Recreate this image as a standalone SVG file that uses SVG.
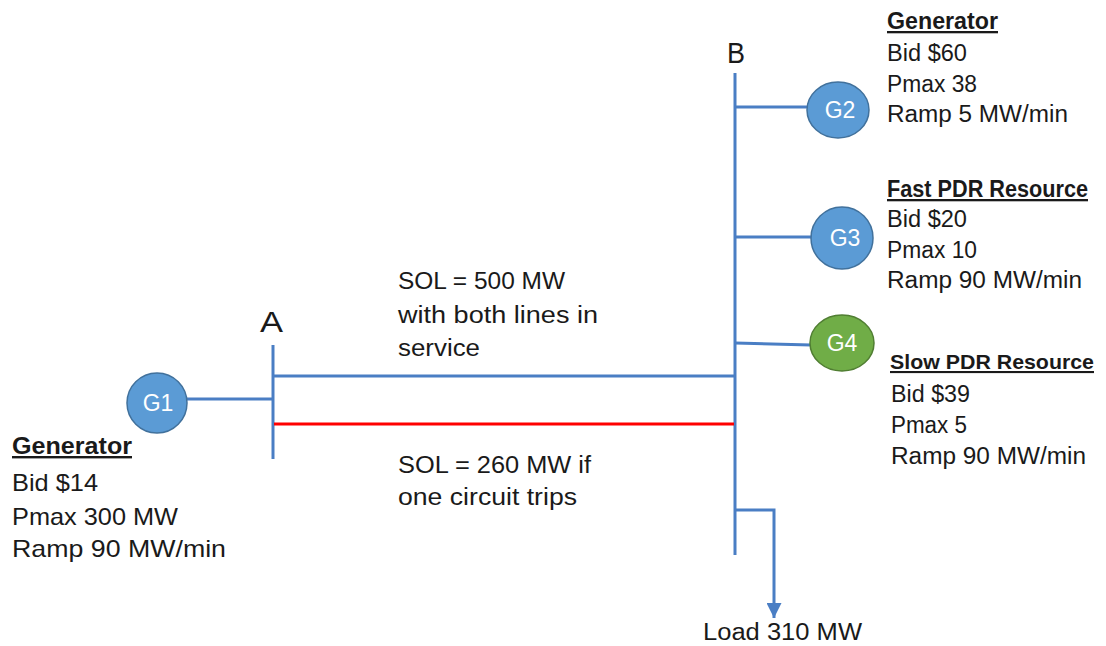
<svg xmlns="http://www.w3.org/2000/svg" width="1106" height="646" viewBox="0 0 1106 646">
<style>
text{font-family:"Liberation Sans",Arial,sans-serif;fill:#1a1a1a;font-size:23px}
.big{font-size:24px}
.h{font-weight:bold;text-decoration:underline}
.sm{font-size:21px}
.bus{font-size:29px}
.lbl{fill:#ffffff;font-size:23px;text-anchor:middle}
.w{stroke:#4A7EC4;stroke-width:3;fill:none}
.r{stroke:#FF0000;stroke-width:3;fill:none}
.gb{fill:#5B9BD5;stroke:#41719C;stroke-width:1.5}
.gg{fill:#70AD47;stroke:#507E32;stroke-width:1.5}
</style>
<defs>
<marker id="arr" viewBox="0 0 10 10" refX="10" refY="5" markerWidth="5" markerHeight="5" orient="auto" markerUnits="strokeWidth">
<path d="M0,0 L10,5 L0,10 z" fill="#4A7EC4"/>
</marker>
</defs>
<g id="connectors">
<line class="w" x1="273" y1="345" x2="273" y2="459"/>
<line class="w" x1="735" y1="73" x2="735" y2="555"/>
<line class="w" x1="273" y1="376" x2="735" y2="376"/>
<line class="r" x1="274" y1="424" x2="734" y2="424"/>
<line class="w" x1="187" y1="399" x2="273" y2="399"/>
<line class="w" x1="735" y1="107" x2="807" y2="107"/>
<line class="w" x1="735" y1="237" x2="812" y2="237"/>
<line class="w" x1="735" y1="343" x2="811" y2="345"/>
<polyline class="w" points="735,510 774,510 774,618" marker-end="url(#arr)"/>
</g>
<g id="busA"><text class="bus" x="260" y="332" textLength="23" lengthAdjust="spacingAndGlyphs">A</text></g>
<g id="busB"><text class="bus" x="727" y="63" textLength="18" lengthAdjust="spacingAndGlyphs">B</text></g>
<g id="G1">
<circle class="gb" cx="157" cy="403" r="30"/>
<text class="lbl" x="158" y="411">G1</text>
</g>
<g id="G2">
<ellipse class="gb" cx="838" cy="110" rx="31" ry="28"/>
<text class="lbl" x="840" y="118">G2</text>
</g>
<g id="G3">
<ellipse class="gb" cx="842" cy="238" rx="31" ry="31"/>
<text class="lbl" x="845" y="246">G3</text>
</g>
<g id="G4">
<ellipse class="gg" cx="842" cy="343" rx="32" ry="28"/>
<text class="lbl" x="842" y="351">G4</text>
</g>
<g id="G1info">
<text class="h big" x="12" y="454" textLength="120" lengthAdjust="spacingAndGlyphs">Generator</text>
<text class="big" x="12" y="491" textLength="86" lengthAdjust="spacingAndGlyphs">Bid $14</text>
<text class="big" x="12" y="525" textLength="166" lengthAdjust="spacingAndGlyphs">Pmax 300 MW</text>
<text class="big" x="12" y="557" textLength="214" lengthAdjust="spacingAndGlyphs">Ramp 90 MW/min</text>
</g>
<g id="G2info">
<text class="h" x="887" y="29" textLength="111" lengthAdjust="spacingAndGlyphs">Generator</text>
<text x="887" y="61" textLength="80" lengthAdjust="spacingAndGlyphs">Bid $60</text>
<text x="887" y="92" textLength="90" lengthAdjust="spacingAndGlyphs">Pmax 38</text>
<text x="887" y="122" textLength="181" lengthAdjust="spacingAndGlyphs">Ramp 5 MW/min</text>
</g>
<g id="G3info">
<text class="h" x="887" y="197" textLength="201" lengthAdjust="spacingAndGlyphs">Fast PDR Resource</text>
<text x="887" y="227" textLength="80" lengthAdjust="spacingAndGlyphs">Bid $20</text>
<text x="887" y="258" textLength="90" lengthAdjust="spacingAndGlyphs">Pmax 10</text>
<text x="887" y="288" textLength="195" lengthAdjust="spacingAndGlyphs">Ramp 90 MW/min</text>
</g>
<g id="G4info">
<text class="h sm" x="890" y="369" textLength="204" lengthAdjust="spacingAndGlyphs">Slow PDR Resource</text>
<text x="891" y="402" textLength="79" lengthAdjust="spacingAndGlyphs">Bid $39</text>
<text x="891" y="433" textLength="76" lengthAdjust="spacingAndGlyphs">Pmax 5</text>
<text x="891" y="464" textLength="195" lengthAdjust="spacingAndGlyphs">Ramp 90 MW/min</text>
</g>
<g id="line1label">
<text x="398" y="289" textLength="167" lengthAdjust="spacingAndGlyphs">SOL = 500 MW</text>
<text x="398" y="323" textLength="200" lengthAdjust="spacingAndGlyphs">with both lines in</text>
<text x="398" y="356" textLength="82" lengthAdjust="spacingAndGlyphs">service</text>
</g>
<g id="line2label">
<text x="398" y="473" textLength="193" lengthAdjust="spacingAndGlyphs">SOL = 260 MW if</text>
<text x="398" y="505" textLength="179" lengthAdjust="spacingAndGlyphs">one circuit trips</text>
</g>
<g id="load">
<text x="703" y="640" textLength="159" lengthAdjust="spacingAndGlyphs">Load 310 MW</text>
</g>
</svg>
